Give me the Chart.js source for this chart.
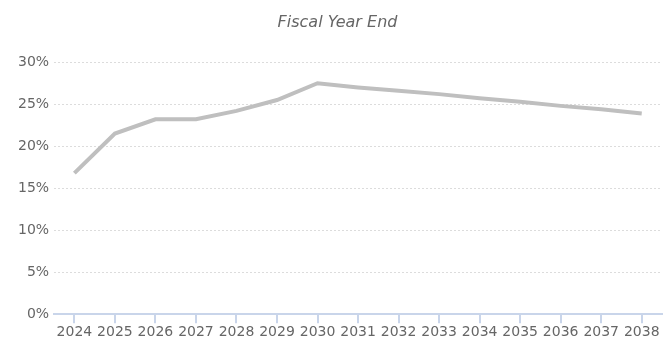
<!DOCTYPE html>
<html>
<head>
<meta charset="utf-8">
<script src="https://cdn.jsdelivr.net/npm/chart.js@4/dist/chart.umd.min.js"></script>
<style>
  html, body { margin: 0; padding: 0; background: #fff; }
  #wrap { width: 672px; height: 347px; position: relative; }
</style>
</head>
<body>
<div id="wrap"><canvas id="chart"></canvas></div>
<script>
/* ===== DATA ===== */
const years = ["2024", "2025", "2026", "2027", "2028", "2029", "2030", "2031",
  "2032", "2033", "2034", "2035", "2036", "2037", "2038"];
const margin = [16.8, 21.5, 23.2, 23.2, 24.2, 25.5, 27.5, 27.0,
  26.6, 26.2, 25.7, 25.3, 24.8, 24.4, 23.9];
const yTicks = [0, 5, 10, 15, 20, 25, 30];

/* ===== CHART ===== */
const axisBlue = "#c9d5ea";
const FONT = "'DejaVu Sans', Verdana, sans-serif";

new Chart(document.getElementById("chart"), {
  type: "line",
  data: {
    labels: years,
    datasets: [{
      data: margin,
      borderColor: "#bfbfbf",
      borderWidth: 4,
      pointRadius: 0,
      tension: 0,
      fill: false
    }]
  },
  options: {
    responsive: true,
    maintainAspectRatio: false,
    animation: false,
    layout: { padding: { left: 13, right: 10, top: 4, bottom: 5 } },
    plugins: {
      legend: { display: false },
      tooltip: { enabled: false },
      title: {
        display: true,
        text: "Fiscal Year End",
        color: "#666",
        font: { family: FONT, size: 16, style: "italic", weight: "normal" },
        padding: { top: 9, bottom: 30 }
      }
    },
    scales: {
      x: {
        offset: true,
        grid: {
          drawOnChartArea: false,
          color: axisBlue,
          lineWidth: 2,
          tickLength: 9
        },
        border: { color: axisBlue, width: 2 },
        ticks: {
          color: "#666",
          font: { family: FONT, size: 14 },
          maxRotation: 0,
          autoSkip: false,
          padding: 1
        }
      },
      y: {
        min: yTicks[0],
        max: yTicks[yTicks.length - 1],
        afterBuildTicks: axis => { axis.ticks = yTicks.map(v => ({ value: v })); },
        grid: {
          color: ctx => ctx.tick && ctx.tick.value === 0 ? "rgba(0,0,0,0)" : "#dcdcdc",
          lineWidth: 1,
          drawTicks: false
        },
        border: { display: false, dash: [2, 2] },
        ticks: {
          color: "#666",
          font: { family: FONT, size: 14 },
          padding: 5,
          callback: v => v + "%"
        }
      }
    }
  }
});
</script>
</body>
</html>
